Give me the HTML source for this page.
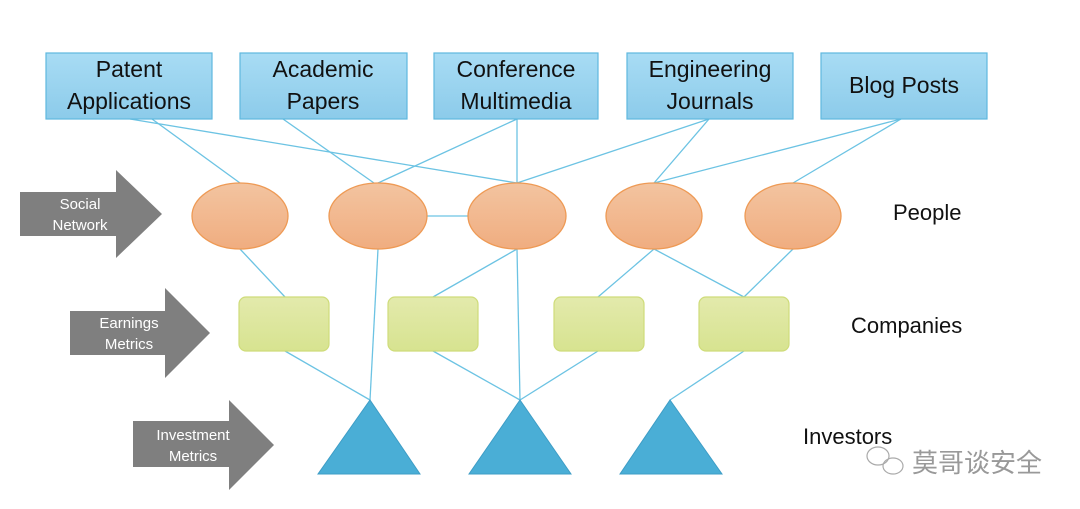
<!DOCTYPE html>
<html><head><meta charset="utf-8"><style>body{margin:0;background:#fff}svg{display:block}</style></head><body>
<svg width="1080" height="509" viewBox="0 0 1080 509" xmlns="http://www.w3.org/2000/svg" font-family="'Liberation Sans', 'Noto Sans CJK SC', sans-serif">
<defs>
<linearGradient id="bg" x1="0" y1="0" x2="0" y2="1"><stop offset="0" stop-color="#a8dcf4"/><stop offset="1" stop-color="#8ccbea"/></linearGradient>
<linearGradient id="og" x1="0" y1="0" x2="0" y2="1"><stop offset="0" stop-color="#f3c4a0"/><stop offset="1" stop-color="#f0ad80"/></linearGradient>
<linearGradient id="gg" x1="0" y1="0" x2="0" y2="1"><stop offset="0" stop-color="#e3eaac"/><stop offset="1" stop-color="#d7e390"/></linearGradient>
</defs>
<g stroke="#6cc3e3" stroke-width="1.3" fill="none">
<line x1="130" y1="119" x2="517" y2="183"/>
<line x1="152" y1="119" x2="240" y2="183"/>
<line x1="283" y1="119" x2="374" y2="183"/>
<line x1="517" y1="119" x2="378" y2="183"/>
<line x1="517" y1="119" x2="517" y2="183"/>
<line x1="709" y1="119" x2="517" y2="183"/>
<line x1="709" y1="119" x2="654" y2="183"/>
<line x1="901" y1="119" x2="654" y2="183"/>
<line x1="901" y1="119" x2="793" y2="183"/>
<line x1="420" y1="216" x2="475" y2="216"/>
<line x1="240" y1="249" x2="285" y2="297"/>
<line x1="378" y1="249" x2="370" y2="400"/>
<line x1="517" y1="249" x2="433" y2="297"/>
<line x1="517" y1="249" x2="520" y2="400"/>
<line x1="654" y1="249" x2="598" y2="297"/>
<line x1="654" y1="249" x2="744" y2="297"/>
<line x1="793" y1="249" x2="744" y2="297"/>
<line x1="285" y1="351" x2="370" y2="400"/>
<line x1="433" y1="351" x2="520" y2="400"/>
<line x1="598" y1="351" x2="520" y2="400"/>
<line x1="744" y1="351" x2="670" y2="400"/>
</g>
<g fill="url(#bg)" stroke="#5fb8de" stroke-width="1.2">
<rect x="46" y="53" width="166" height="66"/>
<rect x="240" y="53" width="167" height="66"/>
<rect x="434" y="53" width="164" height="66"/>
<rect x="627" y="53" width="166" height="66"/>
<rect x="821" y="53" width="166" height="66"/>
</g>
<g font-size="23" fill="#111" text-anchor="middle">
<text x="129" y="77">Patent</text><text x="129" y="109">Applications</text>
<text x="323" y="77">Academic</text><text x="323" y="109">Papers</text>
<text x="516" y="77">Conference</text><text x="516" y="109">Multimedia</text>
<text x="710" y="77">Engineering</text><text x="710" y="109">Journals</text>
<text x="904" y="93">Blog Posts</text>
</g>
<g fill="url(#og)" stroke="#ee9a55" stroke-width="1.3">
<ellipse cx="240" cy="216" rx="48" ry="33"/>
<ellipse cx="378" cy="216" rx="49" ry="33"/>
<ellipse cx="517" cy="216" rx="49" ry="33"/>
<ellipse cx="654" cy="216" rx="48" ry="33"/>
<ellipse cx="793" cy="216" rx="48" ry="33"/>
</g>
<g fill="url(#gg)" stroke="#cfdc7a" stroke-width="1.2">
<rect x="239" y="297" width="90" height="54" rx="7"/>
<rect x="388" y="297" width="90" height="54" rx="7"/>
<rect x="554" y="297" width="90" height="54" rx="7"/>
<rect x="699" y="297" width="90" height="54" rx="7"/>
</g>
<g fill="#4aaed6" stroke="#3e9dc6" stroke-width="1">
<polygon points="370,400 420,474 318,474"/>
<polygon points="520,400 571,474 469,474"/>
<polygon points="670,400 722,474 620,474"/>
</g>
<g fill="#7f7f7f">
<polygon points="20,192 116,192 116,170 162,214 116,258 116,236 20,236"/>
<polygon points="70,311 165,311 165,288 210,333 165,378 165,355 70,355"/>
<polygon points="133,421 229,421 229,400 274,445 229,490 229,467 133,467"/>
</g>
<g fill="#fff" font-size="15" text-anchor="middle">
<text x="80" y="209">Social</text><text x="80" y="230">Network</text>
<text x="129" y="328">Earnings</text><text x="129" y="349">Metrics</text>
<text x="193" y="440">Investment</text><text x="193" y="461">Metrics</text>
</g>
<g font-size="22" fill="#111">
<text x="893" y="220">People</text>
<text x="851" y="333">Companies</text>
<text x="803" y="444">Investors</text>
</g>
<g fill="none" stroke="#aaa" stroke-width="1.2">
<ellipse cx="878" cy="456" rx="11" ry="9"/>
<ellipse cx="893" cy="466" rx="10" ry="8"/>
</g>
<text x="912" y="472" font-size="26" fill="#999">莫哥谈安全</text>
</svg>
</body></html>
